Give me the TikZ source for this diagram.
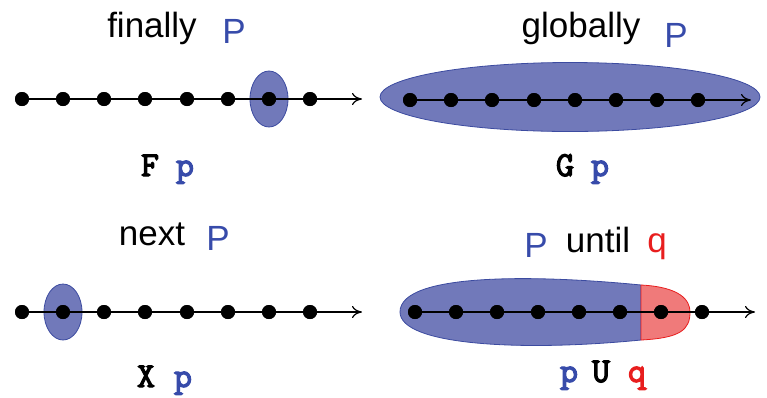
\documentclass[tikz,border=0pt]{standalone}
\usepackage{fontspec}
\setmainfont{Liberation Sans}
\newfontfamily\codefont{Latin Modern Mono}[FakeBold=3.5]
\usetikzlibrary{shapes.geometric,arrows.meta}
\definecolor{pblue}{RGB}{113,121,186}
\definecolor{pblueedge}{RGB}{60,75,160}
\definecolor{tblue}{RGB}{55,75,170}
\definecolor{qred}{RGB}{240,122,122}
\definecolor{tred}{RGB}{232,30,30}
\tikzset{
  dot/.style={circle,fill=black,inner sep=0pt,minimum size=14pt},
  timeline/.style={line width=1.2pt,-{To[length=10pt,width=12pt]}},
  region/.style={ellipse,fill=pblue,draw=pblueedge,line width=0.8pt,inner sep=0pt},
  lbl/.style={font=\fontsize{35}{35}\selectfont,inner sep=0pt,anchor=base},
  code/.style={font=\codefont\bfseries\fontsize{35}{35}\selectfont,inner sep=0pt,anchor=base}
}
\begin{document}
\begin{tikzpicture}[x=1pt,y=-1pt]
\useasboundingbox (0,0) rectangle (767,397);
% ---------- finally ----------
\node[region,minimum width=38pt,minimum height=56pt] (fe) at (269,99) {};
\foreach \i/\x in {1/22,2/63,3/104,4/145,5/187,6/228,7/269,8/310}
  \node[dot] (f\i) at (\x,99) {};
\coordinate (fend) at (362,99);
\draw[timeline] (f1.center) -- (fend);
\foreach \i/\x in {1/22,2/63,3/104,4/145,5/187,6/228,7/269,8/310}
  \node[dot] at (\x,99) {};
\node[lbl] (ft) at (152,37) {finally};
\node[lbl,text=tblue] (fp) at (234,43) {P};
\node[code] (fF) at (150,176) {F};
\node[code,text=tblue] (fpp) at (185,176) {p};
% ---------- globally ----------
\node[region,minimum width=380pt,minimum height=69pt] (ge) at (570,97) {};
\foreach \i/\x in {1/410,2/451,3/492,4/534,5/575,6/616,7/657,8/698}
  \node[dot] (g\i) at (\x,100) {};
\coordinate (gend) at (751,100);
\draw[timeline] (g1.center) -- (gend);
\foreach \i/\x in {1/410,2/451,3/492,4/534,5/575,6/616,7/657,8/698}
  \node[dot] at (\x,100) {};
\node[lbl] (gt) at (581,37) {globally};
\node[lbl,text=tblue] (gp) at (676,47) {P};
\node[code] (gG) at (565,176) {G};
\node[code,text=tblue] (gpp) at (600,176) {p};
% ---------- next ----------
\node[region,minimum width=38pt,minimum height=56pt] (ne) at (63,312) {};
\foreach \i/\x in {1/22,2/63,3/104,4/145,5/187,6/228,7/269,8/310}
  \node[dot] (n\i) at (\x,312) {};
\coordinate (nend) at (362,312);
\draw[timeline] (n1.center) -- (nend);
\foreach \i/\x in {1/22,2/63,3/104,4/145,5/187,6/228,7/269,8/310}
  \node[dot] at (\x,312) {};
\node[lbl] (nt) at (152,245) {next};
\node[lbl,text=tblue] (np) at (218,250) {P};
\node[code] (nX) at (146,387) {X};
\node[code,text=tblue] (npp) at (183,387) {p};
% ---------- until ----------
\fill[pblue,draw=pblueedge,line width=0.8pt]
  (641,285) .. controls (540,275) and (400,272) .. (400,312)
  .. controls (400,345) and (520,352) .. (641,340) -- cycle;
\fill[qred,draw=tred,line width=0.8pt]
  (641,285) .. controls (680,287) and (690,300) .. (690,312)
  .. controls (690,330) and (680,338) .. (641,340) -- cycle;
\foreach \i/\x in {1/415,2/456,3/497,4/538,5/579,6/620,7/661,8/702}
  \node[dot] (u\i) at (\x,312) {};
\coordinate (uend) at (755,312);
\draw[timeline] (u1.center) -- (uend);
\foreach \i/\x in {1/415,2/456,3/497,4/538,5/579,6/620,7/661,8/702}
  \node[dot] at (\x,312) {};
\node[lbl,text=tblue] (up) at (536,257) {P};
\node[lbl] (ut) at (598,252) {until};
\node[lbl,text=tred] (uq) at (657,252) {q};
\node[code,text=tblue] (upp) at (569,382) {p};
\node[code] (uU) at (601,382) {U};
\node[code,text=tred] (uqq) at (637,382) {q};
\end{tikzpicture}
\end{document}
